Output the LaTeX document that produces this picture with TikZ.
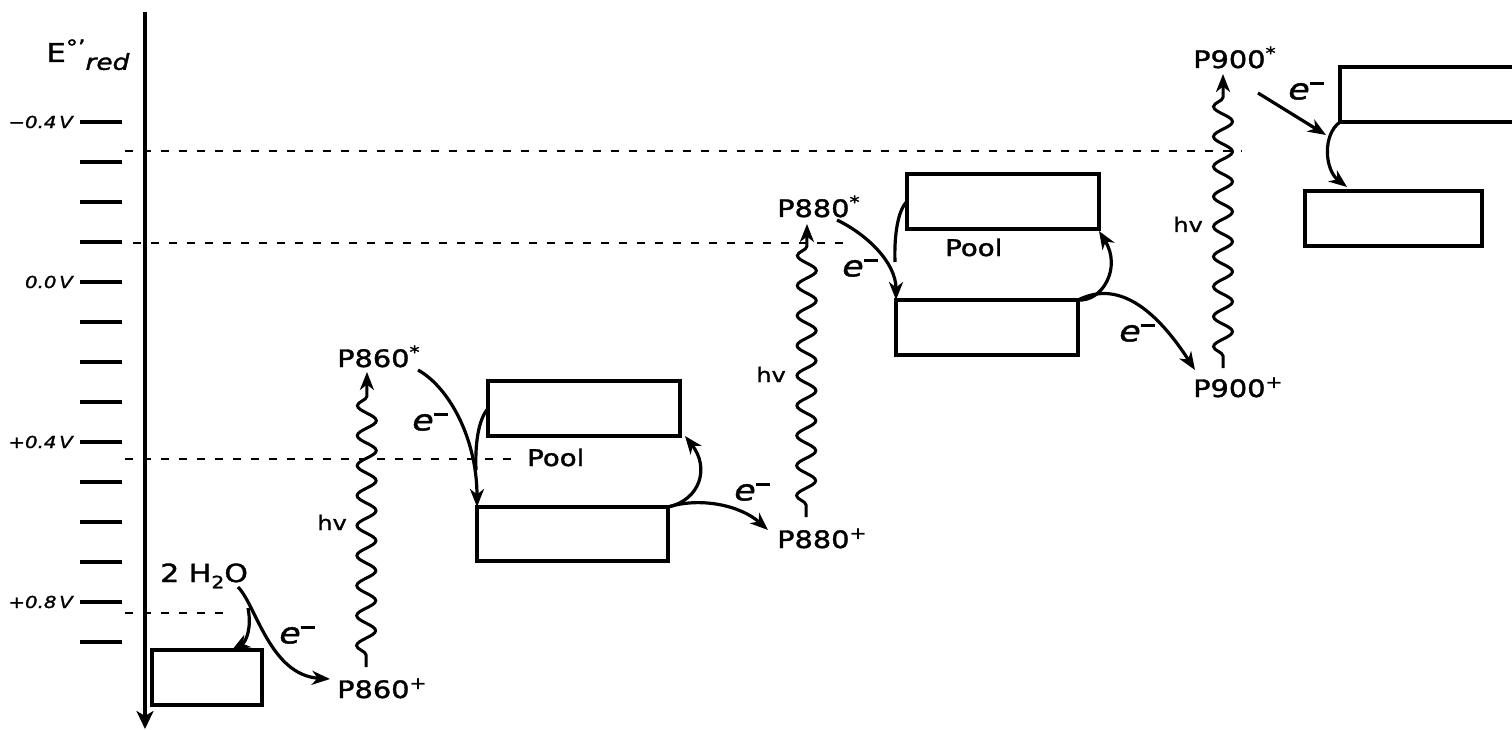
\documentclass[tikz,border=0pt]{standalone}
\usepackage{fontspec}
\setmainfont{DejaVu Sans}[FakeStretch=1.2, FakeBold=1.5]
\usetikzlibrary{arrows.meta,decorations.pathmorphing}
\newcommand{\elec}{\textit{e}\raisebox{0.5em}{\rule{0.48em}{0.09em}}}
\begin{document}
\begin{tikzpicture}[x=1pt,y=-1pt,
  box/.style={draw, line width=3.2pt, inner sep=0pt, outer sep=0pt},
  ln/.style={line width=3.2pt},
  arr/.style={line width=3.2pt, -{Stealth[length=18pt,width=14pt,inset=5.5pt]}},
  dsh/.style={line width=2.6pt, dash pattern=on 8pt off 10pt},
  wave/.style={line width=3pt, -{Stealth[length=18pt,width=14pt,inset=5.5pt]},
     decorate, decoration={snake, amplitude=9.5pt, segment length=30pt, pre length=12pt, post length=14pt}},
  plab/.style={anchor=base west, inner sep=0pt, font=\fontsize{24}{26}\selectfont},
  pool/.style={anchor=base west, inner sep=0pt, font=\fontsize{23}{25}\selectfont},
  hv/.style={anchor=base east, inner sep=0pt, font=\fontsize{20}{22}\selectfont},
  el/.style={inner sep=0pt, font=\fontsize{29}{31}\selectfont},
  vlab/.style={anchor=east, inner sep=0pt, font=\fontsize{16.5}{18}\selectfont\itshape}]
\clip (0,0) rectangle (1512,730);
\fill[white] (0,0) rectangle (1512,730);

% axis and ticks
\draw[line width=3.2pt, -{Stealth[length=18pt,width=17pt,inset=5pt]}] (145,12) -- (145,729);
\foreach \k in {0,...,13} {\draw[ln] (80,122+40*\k) -- (122,122+40*\k);}
\node[vlab] (v1) at (73,122) {−0.4\,V};
\node[vlab] (v2) at (73,282) {0.0\,V};
\node[vlab] (v3) at (73,442) {+0.4\,V};
\node[vlab] (v4) at (73,602) {+0.8\,V};
\node[anchor=base west, inner sep=0pt, font=\fontsize{26}{28}\selectfont] (elab) at (46,62)
  {E\raisebox{0.3em}{\fontsize{20}{22}\selectfont °'}\raisebox{-0.3em}{\fontsize{22}{24}\selectfont\itshape red}};

% dashed levels
\draw[dsh] (125,151) -- (1242,151);
\draw[dsh] (133,243) -- (850,243);
\draw[dsh] (125,459) -- (517,459);
\draw[dsh] (125,613) -- (230,613);

% boxes
\node[box, minimum width=110pt, minimum height=55pt] (A) at (207,677.5) {};
\node[box, minimum width=192pt, minimum height=55pt] (B1) at (584,408.5) {};
\node[box, minimum width=191pt, minimum height=54pt] (B2) at (572.5,534) {};
\node[box, minimum width=192pt, minimum height=55pt] (C1) at (1003,201.5) {};
\node[box, minimum width=182pt, minimum height=55pt] (C2) at (987,327.5) {};
\node[box, minimum width=192pt, minimum height=55pt] (D1) at (1436,94.5) {};
\node[box, minimum width=177pt, minimum height=55pt] (D2) at (1393.5,218.5) {};

% labels
\node[anchor=base west, inner sep=0pt, font=\fontsize{25}{27}\selectfont] (h2o) at (160,582)
  {2 H\raisebox{-0.25em}{\fontsize{17}{18}\selectfont 2}O};
\node[plab] (p860s) at (337,367) {P860\textsuperscript{*}};
\node[plab] (p860p) at (337,698) {P860\textsuperscript{+}};
\node[plab] (p880s) at (777,217) {P880\textsuperscript{*}};
\node[plab] (p880p) at (777,548) {P880\textsuperscript{+}};
\node[plab] (p900s) at (1193,68) {P900\textsuperscript{*}};
\node[plab] (p900p) at (1193,397) {P900\textsuperscript{+}};
\node[pool] (pool1) at (527,466) {Pool};
\node[pool] (pool2) at (945,256) {Pool};
\node[hv] (hv1) at (347,530) {hv};
\node[hv] (hv2) at (786,382) {hv};
\node[hv] (hv3) at (1203,232) {hv};
\node[el] (e1) at (297,635) {\elec};
\node[el] (e2) at (430,422) {\elec};
\node[el] (e3) at (752,492) {\elec};
\node[el] (e4) at (860,268) {\elec};
\node[el] (e5) at (1137,333) {\elec};
\node[el] (e6) at (1306,91) {\elec};

% connector end points
\coordinate (h2oOut) at (238,587);
\coordinate (h2oSplit) at (248,608);
\coordinate (p860pIn) at (330,679);
\coordinate (w1b) at (366,667);
\coordinate (w1t) at (367,372);
\coordinate (p860sOut) at (418,370);
\coordinate (m1) at (476,470);
\coordinate (p880pIn) at (768,530);
\coordinate (w2b) at (806,517);
\coordinate (w2t) at (807,224);
\coordinate (p880sOut) at (837,220);
\coordinate (m2) at (895,262);
\coordinate (p900pIn) at (1195,370);
\coordinate (w3b) at (1223,368);
\coordinate (w3t) at (1223,74);
\coordinate (p900sOut) at (1258,93);
\coordinate (d1In) at (1326,135);

% connectors
\draw[arr] (h2oOut) .. controls (256,605) and (270,675) .. (p860pIn);
\draw[arr] (h2oSplit) .. controls (252,628) and (246,642) .. ([xshift=-30pt]A.north east);
\draw[wave] (w1b) -- (w1t);
\draw[arr] (p860sOut) .. controls (450,388) and (477,440) .. (B2.north west);
\draw[ln] (B1.west) .. controls (478,420) and (475,445) .. (m1);
\draw[arr] (B2.north east) .. controls (700,500) and (710,468) .. ([xshift=5pt]B1.south east);
\draw[arr] (B2.north east) .. controls (700,497) and (740,505) .. (p880pIn);
\draw[wave] (w2b) -- (w2t);
\draw[arr] (p880sOut) .. controls (866,234) and (896,262) .. (C2.north west);
\draw[ln] (C1.west) .. controls (898,210) and (894,235) .. (m2);
\draw[arr] (C2.north east) .. controls (1102,302) and (1122,268) .. ([yshift=-2pt]C1.south east);
\draw[arr] (C2.north east) .. controls (1102,288) and (1140,285) .. (p900pIn);
\draw[wave] (w3b) -- (w3t);
\draw[arr] (p900sOut) -- (d1In);
\draw[arr] (D1.south west) .. controls (1322,135) and (1325,170) .. ([xshift=42pt,yshift=4pt]D2.north west);
\end{tikzpicture}
\end{document}
